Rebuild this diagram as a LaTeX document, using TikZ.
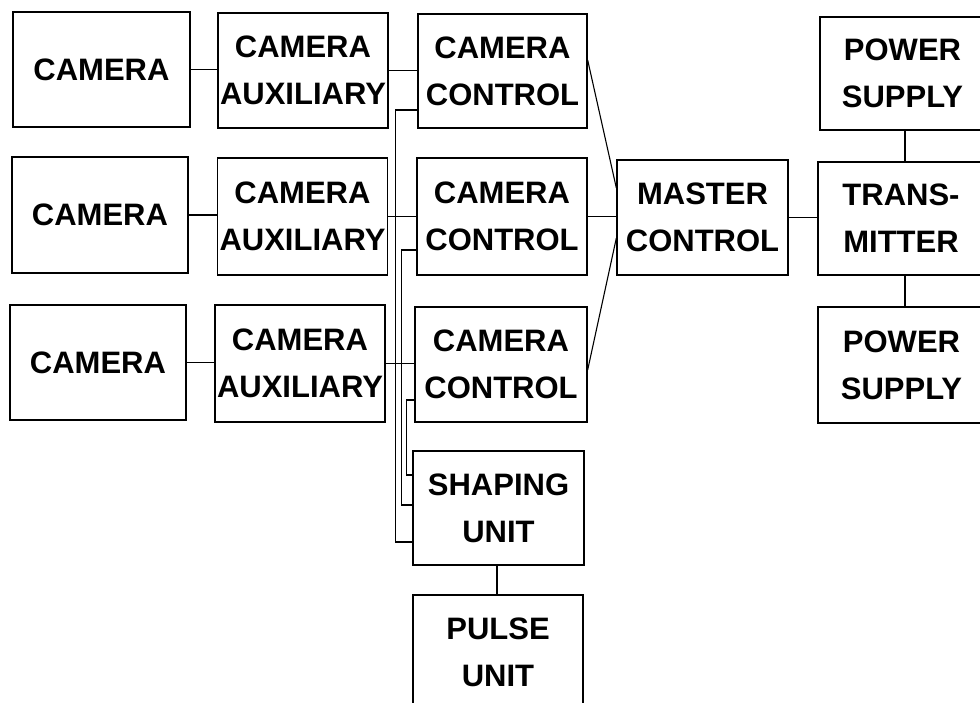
\documentclass[tikz,border=0pt]{standalone}
\usepackage{fontspec}
\setmainfont{Liberation Sans}
\usetikzlibrary{calc}
\tikzset{
  blk/.style={draw, line width=1.3pt, inner sep=0pt, align=center,
    minimum width=170pt, minimum height=115pt,
    font=\fontsize{31}{47}\selectfont\bfseries},
  wire/.style={line width=1.1pt}
}
\begin{document}
\begin{tikzpicture}[x=1pt,y=-1pt]
\clip (0,0) rectangle (980,703);
\fill[white] (0,0) rectangle (980,703);
% column 1
\node[blk, minimum width=177pt] (cam1) at (101.5,69.5) {CAMERA};
\node[blk, minimum width=176pt, minimum height=116pt] (cam2) at (100,215) {CAMERA};
\node[blk, minimum width=176pt] (cam3) at (98,362.5) {CAMERA};
% column 2
\node[blk] (aux1) at (303,70.5) {CAMERA\\AUXILIARY};
\node[blk, minimum height=117pt] (aux2) at (302.5,216.5) {CAMERA\\AUXILIARY};
\node[blk, minimum height=117pt] (aux3) at (300,363.5) {CAMERA\\AUXILIARY};
% column 3
\node[blk, minimum width=169pt, minimum height=114pt] (ctl1) at (502.5,71) {CAMERA\\CONTROL};
\node[blk, minimum height=117pt] (ctl2) at (502,216.5) {CAMERA\\CONTROL};
\node[blk, minimum width=172pt] (ctl3) at (501,364.5) {CAMERA\\CONTROL};
\node[blk, minimum width=171pt, minimum height=114pt] (shape) at (498.5,508) {SHAPING\\UNIT};
\node[blk] (pulse) at (498,652.5) {PULSE\\UNIT};
% master
\node[blk, minimum width=171pt] (master) at (702.5,217.5) {MASTER\\CONTROL};
% transmitter column
\node[blk, minimum width=165pt, minimum height=113pt] (ps1) at (902.5,73.5) {POWER\\SUPPLY};
\node[blk, minimum width=166pt, minimum height=113pt] (trans) at (901,218.5) {TRANS-\\MITTER};
\node[blk, minimum width=167pt, minimum height=116pt] (ps2) at (901.5,365) {POWER\\SUPPLY};
% camera -> auxiliary
\draw[wire] (cam1.east) -- (cam1.east -| aux1.west);
\draw[wire] (cam2.east) -- (cam2.east -| aux2.west);
\draw[wire] (cam3.east) -- (cam3.east -| aux3.west);
% auxiliary -> control
\draw[wire] (aux1.east) -- (aux1.east -| ctl1.west);
\draw[wire] (aux2.east) -- (aux2.east -| ctl2.west);
\draw[wire] (aux3.east) -- (aux3.east -| ctl3.west);
% control -> shaping unit buses
\draw[wire] ([yshift=-39pt]ctl1.west) -- ++(-22,0) |- ([yshift=-34pt]shape.west);
\draw[wire] ([yshift=-33.5pt]ctl2.west) -- ++(-15,0) |- ([yshift=3pt]shape.west);
\draw[wire] ([yshift=-35.5pt]ctl3.west) -- ++(-8,0) |- ([yshift=33pt]shape.west);
% control -> master
\draw[wire] ([yshift=11pt]ctl1.east) -- ([yshift=29.5pt]master.west);
\draw[wire] (ctl2.east) -- (ctl2.east -| master.west);
\draw[wire] ([yshift=-5.5pt]ctl3.east) -- ([yshift=-20.5pt]master.west);
% master -> transmitter
\draw[wire] (master.east) -- (master.east -| trans.west);
% power supplies
\draw[wire] ([xshift=2.5pt]ps1.south) -- ([xshift=2.5pt]ps1.south |- trans.north);
\draw[wire] ([xshift=4pt]trans.south) -- ([xshift=4pt]trans.south |- ps2.north);
% shaping -> pulse
\draw[wire] ([xshift=-1.5pt]shape.south) -- ([xshift=-1.5pt]shape.south |- pulse.north);
\end{tikzpicture}
\end{document}
